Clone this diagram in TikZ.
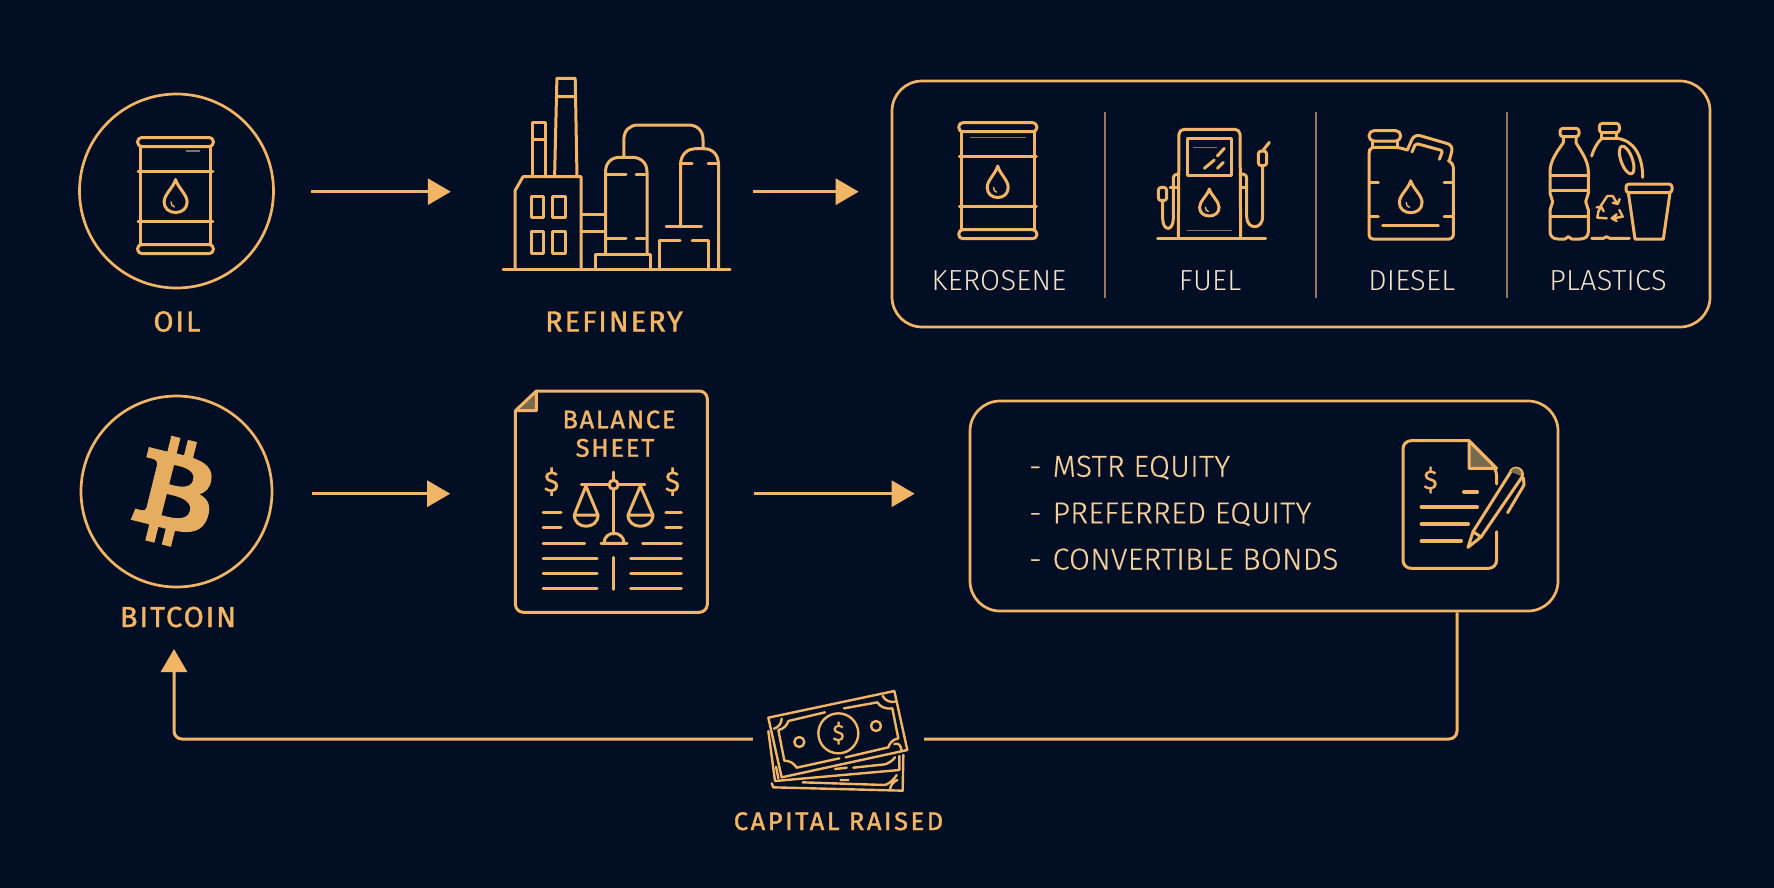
\documentclass[tikz,border=0pt]{standalone}
\usepackage{fontspec}
\usetikzlibrary{arrows.meta,svg.path,calc}
\setmainfont{Fira Sans}
\newfontfamily\labfont[LetterSpace=6.8,FakeBold=1.4]{Fira Sans}
\newfontfamily\capfont[LetterSpace=10,FakeBold=1.5]{Fira Sans}
\newfontfamily\lightfont[UprightFont=* Light,LetterSpace=1]{Fira Sans}
\newfontfamily\listfont[UprightFont=* Light,LetterSpace=1.1,FakeBold=0.4]{Fira Sans}
\newfontfamily\dollarfont[FakeBold=0.6]{Fira Sans}
\definecolor{bg}{HTML}{020E23}
\definecolor{gold}{HTML}{F2B565}
\definecolor{cream}{HTML}{F4E2CB}
\definecolor{listc}{HTML}{F6CF9A}
\definecolor{sepc}{HTML}{96765E}
\definecolor{faint}{HTML}{8A7255}
\definecolor{foldc}{HTML}{786A4C}
\tikzset{
  ln/.style={draw=gold,line width=3pt,line cap=round,line join=round},
  thin ln/.style={draw=gold,line width=2.4pt,line cap=round,line join=round},
  flow/.style={draw=gold,line width=3pt,-{Triangle[length=23pt,width=26pt]}},
  link/.style={draw=gold,line width=3pt},
  ringnode/.style={circle,draw=gold,line width=2.7pt,inner sep=0pt},
  boxnode/.style={rectangle,draw=gold,line width=2.7pt,rounded corners=30pt,inner sep=0pt},
  ghost/.style={rectangle,inner sep=0pt},
  biglabel/.style={text=gold,anchor=base,font=\labfont\fontsize{29}{29}\selectfont,inner sep=0pt},
  prodlabel/.style={text=cream,anchor=base,font=\lightfont\fontsize{29}{29}\selectfont,inner sep=0pt},
  listlabel/.style={text=listc,anchor=base west,font=\listfont\fontsize{30.2}{30.2}\selectfont,inner sep=0pt},
  sep/.style={draw=sepc,line width=2pt},
  dollar/.style={text=gold,inner sep=0pt,font=\dollarfont\fontsize{#1}{#1}\selectfont},
}
\newcommand{\dropicon}[4]{%
  \begin{scope}[shift={(#1,#2)},xscale=#3,yscale=#4]
    \draw[ln] (0,0) .. controls (-.1,.25) and (-.5,.45) .. (-.5,.68)
      .. controls (-.5,.88) and (-.28,1) .. (0,1)
      .. controls (.28,1) and (.5,.88) .. (.5,.68)
      .. controls (.5,.45) and (.1,.25) .. (0,0) -- cycle;
    \draw[draw=gold,line width=1.4pt,line cap=round] (-.2,.68) .. controls (-.2,.76) and (-.14,.82) .. (-.05,.83);
  \end{scope}}
\newcommand{\barrelicon}[3]{%
  \begin{scope}[shift={(#1,#2)},xscale=#3]
    \draw[ln,rounded corners=4pt] (-39,0) rectangle (39,9);
    \draw[ln,rounded corners=4pt] (-39,107) rectangle (39,116);
    \draw[ln] (-36.5,9) -- (-36.5,107) (36.5,9) -- (36.5,107);
    \draw[ln] (-38.5,33.5) -- (38.5,33.5) (-38.5,83.5) -- (38.5,83.5);
  \end{scope}}
\begin{document}
\begin{tikzpicture}[x=1pt,y=-1pt]
\useasboundingbox (0,0) rectangle (1774,887);
\fill[bg] (-6,-6) rectangle (1780,893);
\coordinate (row1) at (0,191.7);
\coordinate (row2) at (0,493.7);

% ---------- main nodes
\node[ringnode,minimum size=194pt] (oil) at (176.5,191) {};
\node[ghost,minimum width=227pt,minimum height=190pt] (refinery) at (616.5,175) {};
\node[boxnode,minimum width=818pt,minimum height=246pt] (products) at (1301,204) {};
\node[ringnode,minimum size=191pt] (bitcoin) at (176.5,491.5) {};
\node[ghost,minimum width=192pt,minimum height=221pt] (sheet) at (611.4,501.7) {};
\node[boxnode,minimum width=588pt,minimum height=210pt] (equity) at (1264,506) {};
\node[ghost,minimum width=171pt,minimum height=100pt] (cash) at (838.5,739) {};
\coordinate (turn) at (1457,739);
\coordinate (upend) at (174,649);

% ---------- labels
\node[biglabel] (oiltxt) at (177,331.5) {OIL};
\node[biglabel] (reftxt) at (614,331.5) {REFINERY};
\node[biglabel] (btctxt) at (178,627) {BITCOIN};
\node[biglabel,font=\capfont\fontsize{25.5}{25.5}\selectfont] (captxt) at (838.5,830) {CAPITAL RAISED};
\node[prodlabel] (kertxt) at (999,290.7) {KEROSENE};
\node[prodlabel] (fueltxt) at (1210,290.7) {FUEL};
\node[prodlabel] (dietxt) at (1411.7,290.7) {DIESEL};
\node[prodlabel] (platxt) at (1608,290.7) {PLASTICS};
\node[biglabel,font=\labfont\fontsize{25.5}{25.5}\selectfont] (baltxt) at (619,428.3) {BALANCE};
\node[biglabel,font=\labfont\fontsize{25.5}{25.5}\selectfont] (shetxt) at (615,456.7) {SHEET};
\node[listlabel] (item1) at (1029,476.7) {\makebox[23.5pt][l]{-}MSTR EQUITY};
\node[listlabel] (item2) at (1029,523.3) {\makebox[23.5pt][l]{-}PREFERRED EQUITY};
\node[listlabel] (item3) at (1029,569.5) {\makebox[23.5pt][l]{-}CONVERTIBLE BONDS};

% ---------- connectors
\draw[flow,shorten <=36.5pt,shorten >=52pt] (oil.east |- row1) -- (row1 -| refinery.west);
\draw[flow,shorten <=23pt,shorten >=32pt] (refinery.east |- row1) -- (row1 -| products.west);
\draw[flow,shorten <=38.5pt,shorten >=65pt] (bitcoin.east |- row2) -- (row2 -| sheet.west);
\draw[flow,shorten <=46pt,shorten >=54pt] (sheet.east |- row2) -- (row2 -| equity.west);
\draw[link,rounded corners=8pt] (turn |- equity.south) -- (turn) -- (cash.east);
\draw[flow,rounded corners=8pt] (cash.west) -- (cash.west -| upend) -- (upend);

% ---------- separators
\draw[sep] (1105,112.3) -- (1105,298) (1316,112.3) -- (1316,298) (1506.7,112.3) -- (1506.7,298);

% ---------- barrels
\barrelicon{175.5}{137.5}{.97}
\dropicon{175.6}{179.5}{23}{33}
\draw[faint,line width=1.5pt] (186,151) -- (200,151);
\barrelicon{997.8}{122.7}{1}
\dropicon{997.7}{166}{21}{31.5}
\draw[faint,line width=1.5pt] (970,137.7) -- (1026,137.7);

% ---------- refinery
\draw[ln] (503,269.3) -- (730,269.3);
\draw[ln] (515,269.3) -- (515,190.7) -- (523,176.7) -- (581,176.7) -- (581,269.3);
\foreach \xa/\xb in {531.4/543.5,552.4/565.8}{
  \draw[ln] (\xa,196.7) rectangle (\xb,217.7);
  \draw[ln] (\xa,231.7) rectangle (\xb,253.3);}
\draw[ln] (532.8,176.7) -- (532.8,122) -- (545.7,122) -- (545.7,176.7) (532.8,139.3) -- (545.7,139.3);
\draw[ln] (554.6,176.7) -- (556.9,78.3) -- (575.2,78.3) -- (577,176.7) (556.5,96.7) -- (575.5,96.7);
\draw[ln] (581,214.7) -- (605.5,214.7) (581,231.7) -- (605.5,231.7);
\draw[ln] (605.5,254) -- (605.5,172) .. controls (605.5,162) and (612,157.3) .. (620,157.3) -- (632,157.3)
  .. controls (640,157.3) and (647,162) .. (647,172) -- (647,254);
\draw[ln] (607,174.3) -- (626,174.3) (636,174.3) -- (645,174.3) (607,238.3) -- (626,238.3) (636,238.3) -- (645,238.3);
\draw[ln] (595,269.3) -- (595,254) -- (650,254) -- (650,269.3);
\draw[ln] (623.8,157) -- (623.8,140) .. controls (623.8,130) and (630,125) .. (638,125) -- (688,125)
  .. controls (697,125) and (703,130) .. (703,140) -- (703,148.7);
\draw[ln] (680.5,226.7) -- (680.5,165) .. controls (680.5,154) and (688,148.7) .. (695,148.7) -- (704,148.7)
  .. controls (712,148.7) and (718.5,154) .. (718.5,165) -- (718.5,269.3);
\draw[ln] (680.5,163.7) -- (692,163.7) (708,163.7) -- (718,163.7);
\draw[ln] (666,226.7) -- (701.5,226.7);
\draw[ln] (659.6,269.3) -- (659.6,240) -- (680,240) (692,240) -- (708,240) -- (708,269.3);

% ---------- pump (coordinates of a 3x crop)
\begin{scope}[shift={(880,70)},scale=1/3]
  \draw[ln] (833,504) -- (1157,504);
  \draw[ln,rounded corners=5pt] (895,500) -- (897,178) -- (1080,178) -- (1082,500);
  \draw[ln] (921,206) rectangle (1055,316);
  \draw[faint,line width=1.6pt] (940,233) -- (1010,233) (920,482) -- (1055,482);
  \draw[ln] (1012,258) -- (1033,235) (973,295) -- (1003,270) (1012,295) -- (1030,277);
  \draw[ln,rounded corners=3pt] (835,352) rectangle (860,392);
  \draw[ln] (848,392) -- (848,445) .. controls (848,485) and (880,485) .. (880,445) -- (880,345) -- (880,325) .. controls (880,315) and (888,312) .. (897,312);
  \draw[ln] (870,352) -- (890,352);
  \draw[ln] (1080,312) -- (1090,312) .. controls (1098,312) and (1100,320) .. (1100,330) -- (1100,440) .. controls (1100,480) and (1148,480) .. (1148,440) -- (1148,287);
  \draw[ln,rounded corners=3pt] (1135,243) rectangle (1160,287);
  \draw[ln] (1150,240) -- (1168,217);
  \draw[ln] (1082,352) -- (1100,352);
\end{scope}
\dropicon{1209.3}{189}{19.5}{27}

% ---------- can
\begin{scope}[shift={(1320,70)},scale=1/3]
  \draw[ln,rounded corners=4pt] (262,240) -- (235,232) -- (150,232) -- (147,250) -- (147,507) -- (400,507) -- (400,280) -- (385,272);
  \draw[ln,rounded corners=5pt] (147,182) rectangle (242,213);
  \draw[ln] (158,213) -- (158,232) (232,213) -- (232,232);
  \draw[ln,rounded corners=6pt] (262,240) -- (283,192) -- (400,226) -- (388,272);
  \draw[ln,rounded corners=2pt] (276,246) -- (287,220) -- (368,242) -- (358,268);
  \draw[ln] (147,337) -- (175,337) (147,438) -- (175,438) (372,337) -- (400,337) (372,438) -- (400,438);
  \draw[ln] (188,466) -- (355,466);
\end{scope}
\dropicon{1410.7}{180.7}{22.7}{32}

% ---------- plastics
\begin{scope}[shift={(1320,70)},scale=1/3]
  \draw[ln,rounded corners=3pt] (720,175) rectangle (777,200);
  \draw[ln] (730,200) -- (730,218) .. controls (715,240) and (690,270) .. (690,305) -- (690,370) -- (698,395) -- (690,420) -- (690,485)
    .. controls (690,500) and (700,507) .. (715,507) -- (735,507) -- (745,500) -- (755,507) -- (780,507)
    .. controls (795,507) and (805,500) .. (805,485) -- (805,420) -- (797,395) -- (805,370) -- (805,305)
    .. controls (805,270) and (780,240) .. (768,218) -- (768,200);
  \draw[ln] (690,315) -- (805,315) (695,362) -- (800,362) (695,440) -- (802,440);
  \draw[ln,rounded corners=3pt] (838,160) rectangle (898,188);
  \draw[ln] (845,188) -- (845,205) (890,188) -- (890,205);
  \draw[ln] (845,205) .. controls (830,220) and (820,240) .. (815,258);
  \draw[ln] (845,205) -- (890,205) .. controls (940,210) and (968,255) .. (968,322);
  \draw[ln,rotate around={20:(920,270)}] (920,270) ellipse (17 and 44);
  \draw[ln] (815,505) -- (850,505) -- (860,500) -- (870,505) -- (928,505);
  \draw[ln,rounded corners=3pt] (918,342) rectangle (1056,368);
  \draw[ln] (925,368) -- (945,507) -- (1030,507) -- (1050,368);
  \draw[thin ln] (842,408) -- (862,378) -- (878,378) -- (890,398) (878,398) -- (893,402) -- (899,387);
  \draw[thin ln] (898,420) -- (908,440) -- (880,445) (890,433) -- (875,445) -- (890,453);
  \draw[thin ln] (860,445) -- (832,443) -- (835,425) -- (842,412) (830,412) -- (844,410) -- (851,424);
\end{scope}

% ---------- bitcoin glyph
\begin{scope}[shift={(176.5,491)},rotate=-14,xscale=.295,yscale=-.31,shift={(-139pt,-175pt)}]
\fill[fill=gold!95!black,even odd rule] svg "M217.021 167.042 c18.631 -9.483 30.288 -26.184 27.565 -54.007 c-3.667 -38.023 -36.526 -50.773 -78.006 -54.404 l-0.008 -52.741 h-32.139 l-0.009 51.354 c-8.456 0 -17.076 0.166 -25.657 0.338 L108.76 5.897 l-32.11 -0.003 l-0.006 52.728 c-6.959 0.142 -13.793 0.277 -20.466 0.277 v-0.156 l-44.33 -0.018 l0.006 34.282 c0 0 23.734 -0.446 23.343 0 c13.013 0.009 17.262 7.559 18.484 14.076 l0.01 60.083 v84.397 c-0.573 4.09 -2.984 10.625 -12.083 10.637 c0.414 0.364 -23.379 0 -23.379 0 l-6.375 38.335 h41.817 c7.792 0.009 15.448 0.13 22.959 0.19 l0.028 53.338 l32.102 0.009 l-0.009 -52.779 c8.832 0.18 17.357 0.258 25.684 0.247 l-0.009 52.532 h32.138 l0.018 -53.249 c54.022 -3.1 91.842 -16.697 96.544 -67.385 C266.916 192.612 247.692 174.396 217.021 167.042 z M109.535 95.321 c18.126 0 75.132 -5.767 75.14 32.064 c-0.008 36.269 -56.996 32.032 -75.14 32.032 V95.321 z M109.521 262.447 l0.014 -70.672 c21.778 -0.006 90.085 -6.261 90.094 35.32 C199.638 266.971 131.313 262.431 109.521 262.447 z";
\end{scope}

% ---------- balance sheet
\fill[foldc] (516,410.7) -- (536.3,391) -- (536.3,410.7) -- cycle;
\draw[ln,rounded corners=8pt] (536.3,391) -- (707.3,391) -- (707.3,612.3) -- (515.4,612.3) -- (515.4,410.7);
\draw[ln] (515.4,410.7) -- (536.3,391) -- (536.3,410.7) -- cycle;
\node[dollar=29] (dl) at (551.5,481.7) {\$};
\node[dollar=29] (dr) at (672.5,481.7) {\$};
\draw[ln] (613.6,472) -- (613.6,534) (581.4,484.7) -- (644.8,484.7);
\draw[ln,fill=bg] (613.6,484.7) circle (4.5);
\draw[ln] (585.9,486) -- (574.3,515) (585.9,486) -- (598,515) (574.3,515) -- (598,515);
\draw[ln] (574.3,515) .. controls (574.3,530) and (598,530) .. (598,515);
\draw[ln] (640.4,486) -- (628,515) (640.4,486) -- (652.9,515) (628,515) -- (652.9,515);
\draw[ln] (628,515) .. controls (628,530) and (652.9,530) .. (652.9,515);
\draw[ln] (601,543.3) -- (627,543.3) (604,543.3) .. controls (604,530) and (624,530) .. (624,543.3);
\draw[ln] (543,512.3) -- (561,512.3) (543,527) -- (561,527) (665.8,512.3) -- (681.4,512.3) (665.8,527) -- (681.4,527);
\draw[ln] (543,543.3) -- (584.6,543.3) (642.6,543.3) -- (681.4,543.3);
\foreach \yy in {558.3,573.3,588.3}{\draw[ln] (543,\yy) -- (597,\yy) (630.5,\yy) -- (681.4,\yy);}
\draw[ln] (613.6,557.3) -- (613.6,589.3);

% ---------- document and pencil
\fill[foldc] (1469,440.7) -- (1496.6,468.3) -- (1469,468.3) -- cycle;
\draw[ln,rounded corners=8pt] (1496.6,484) -- (1496.6,468.3) -- (1469,440.7);
\draw[ln,rounded corners=8pt] (1469,440.7) -- (1403,440.7) -- (1403,568.3) -- (1496.6,568.3) -- (1496.6,531.7);
\draw[ln] (1469,440.7) -- (1469,468.3) -- (1496.6,468.3) -- cycle;
\node[dollar=27] (ds) at (1430.5,480) {\$};
\draw[draw=gold,line width=4pt,line cap=round] (1464,491.7) -- (1477,491.7) (1421.5,507) -- (1477,507) (1421.5,524) -- (1468,524) (1421.5,541) -- (1461,541);
\draw[ln] (1468,547.3) -- (1473,531.7) -- (1510,473) .. controls (1513,464) and (1525,469) .. (1522,477) -- (1481,537) -- cycle;
\draw[ln] (1473,531.7) -- (1481,537);
\fill[foldc] (1511,472) .. controls (1513,465) and (1523,468) .. (1521,476) -- cycle;
\draw[ln] (1523.5,478) -- (1524,485) -- (1507.6,512.7);

% ---------- banknotes (coordinates of a 3x crop)
\begin{scope}[shift={(700,670)},scale=1/3]
  \draw[thin ln] (205,143) -- (583,63) -- (622,240) -- (245,322) -- cycle;
  \draw[thin ln] (265,153) -- (375,127) (432,115) -- (532,97) .. controls (540,110) and (555,118) .. (577,115) -- (595,205)
    .. controls (578,208) and (568,220) .. (565,232) -- (437,262) (418,265) -- (290,293) .. controls (282,280) and (270,272) .. (253,272) -- (235,180) .. controls (250,178) and (262,165) .. (265,153);
  \draw[thin ln] (222,176) .. controls (235,172) and (245,160) .. (245,146) (548,78) .. controls (555,92) and (570,98) .. (586,95) (583,222) .. controls (595,218) and (603,225) .. (605,243);
  \draw[thin ln] (415,190) circle (60) (298,216) circle (15) (528,168) circle (15);
  \draw[thin ln] (205,183) -- (225,333) -- (598,300) -- (598,258);
  \draw[thin ln] (228,290) -- (235,325) (460,293) -- (555,283) .. controls (565,280) and (578,272) .. (585,262) (405,297) -- (440,293);
  \draw[thin ln] (215,340) -- (220,352) -- (608,362) -- (610,255);
  \draw[thin ln] (308,337) -- (555,345) .. controls (570,340) and (582,328) .. (590,315) (570,358) .. controls (572,345) and (580,335) .. (592,330) (422,330) -- (445,330);
\end{scope}
\node[dollar=23] (cd) at (838.5,733) {\$};
\end{tikzpicture}
\end{document}
